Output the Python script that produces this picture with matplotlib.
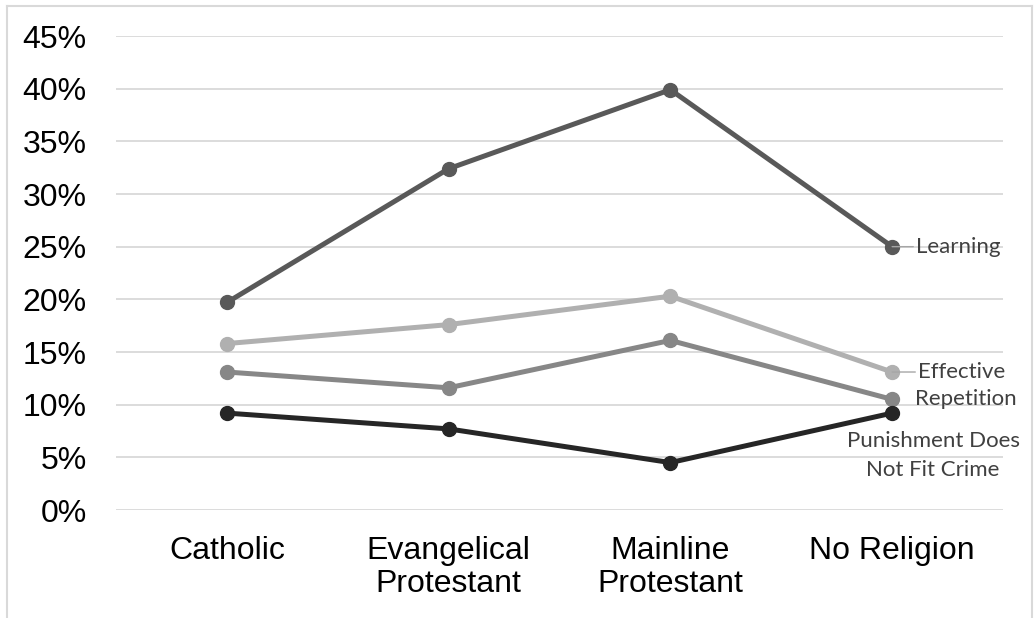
import matplotlib
matplotlib.use("Agg")
import matplotlib.pyplot as plt
from matplotlib.lines import Line2D
from matplotlib.ticker import PercentFormatter

# Share of respondents by religious tradition
CATEGORIES = ["Catholic", "Evangelical\nProtestant", "Mainline\nProtestant", "No Religion"]
SERIES = ["Learning", "Effective", "Repetition", "Punishment Does\nNot Fit Crime"]
LEARNING = [19.7, 32.4, 39.9, 25.0]
EFFECTIVE = [15.8, 17.6, 20.3, 13.1]
REPETITION = [13.1, 11.6, 16.1, 10.5]
PUNISHMENT = [9.2, 7.7, 4.5, 9.2]
Y_TICKS = [0, 5, 10, 15, 20, 25, 30, 35, 40, 45]

COLORS = ["#595959", "#B0B0B0", "#878787", "#262626"]
GRID = "#D9D9D9"

fig = plt.figure(figsize=(10.34, 6.18), dpi=100)
ax = fig.add_axes([116 / 1034, 1 - 510 / 618, 887 / 1034, 474 / 618])

x = range(len(CATEGORIES))
for values, color in zip([LEARNING, EFFECTIVE, REPETITION, PUNISHMENT], COLORS):
    ax.plot(x, values, color=color, lw=3.6, marker="o", ms=10, solid_capstyle="round", zorder=3)

ax.set_xlim(-0.5, 3.5)
ax.set_ylim(0, 45)
ax.set_yticks(Y_TICKS)
ax.yaxis.set_major_formatter(PercentFormatter(decimals=0))
ax.set_xticks(list(x))
ax.set_xticklabels(CATEGORIES, linespacing=1.15)
ax.tick_params(axis="both", length=0, labelsize=23, labelcolor="black")
ax.tick_params(axis="y", pad=21)
ax.tick_params(axis="x", pad=18.5)
for lab in ax.get_xticklabels() + ax.get_yticklabels():
    lab.set_fontfamily("Liberation Sans")

ax.grid(axis="y", color=GRID, lw=1.3)
ax.set_axisbelow(True)
for s in ax.spines.values():
    s.set_visible(False)

# end-of-line series labels with short leader lines
label_kw = dict(fontsize=16, color="#404040", family="Lato", va="center", ha="left")
ax.annotate(SERIES[0], xy=(3, LEARNING[3]), xytext=(3.108, LEARNING[3]),
            arrowprops=dict(arrowstyle="-", color="#A6A6A6", lw=1, shrinkA=0, shrinkB=0), **label_kw)
ax.annotate(SERIES[1], xy=(3, EFFECTIVE[3]), xytext=(3.117, EFFECTIVE[3]),
            arrowprops=dict(arrowstyle="-", color="#A6A6A6", lw=1, shrinkA=0, shrinkB=0), **label_kw)
ax.text(3.104, REPETITION[3], SERIES[2], **label_kw)
ax.text(3.185, 5.2, SERIES[3], fontsize=16, color="#404040", family="Lato",
        va="center", ha="center", linespacing=1.55)

# light frame around the chart area (open at the bottom)
top = 1 - 5.5 / 618
left, right = 6.5 / 1034, 1031.5 / 1034
for xs, ys in [([left, left], [0, top]), ([left, right], [top, top]), ([right, right], [0, top])]:
    fig.add_artist(Line2D(xs, ys, color=GRID, lw=1.5))

fig.savefig("out.png", dpi=100)
